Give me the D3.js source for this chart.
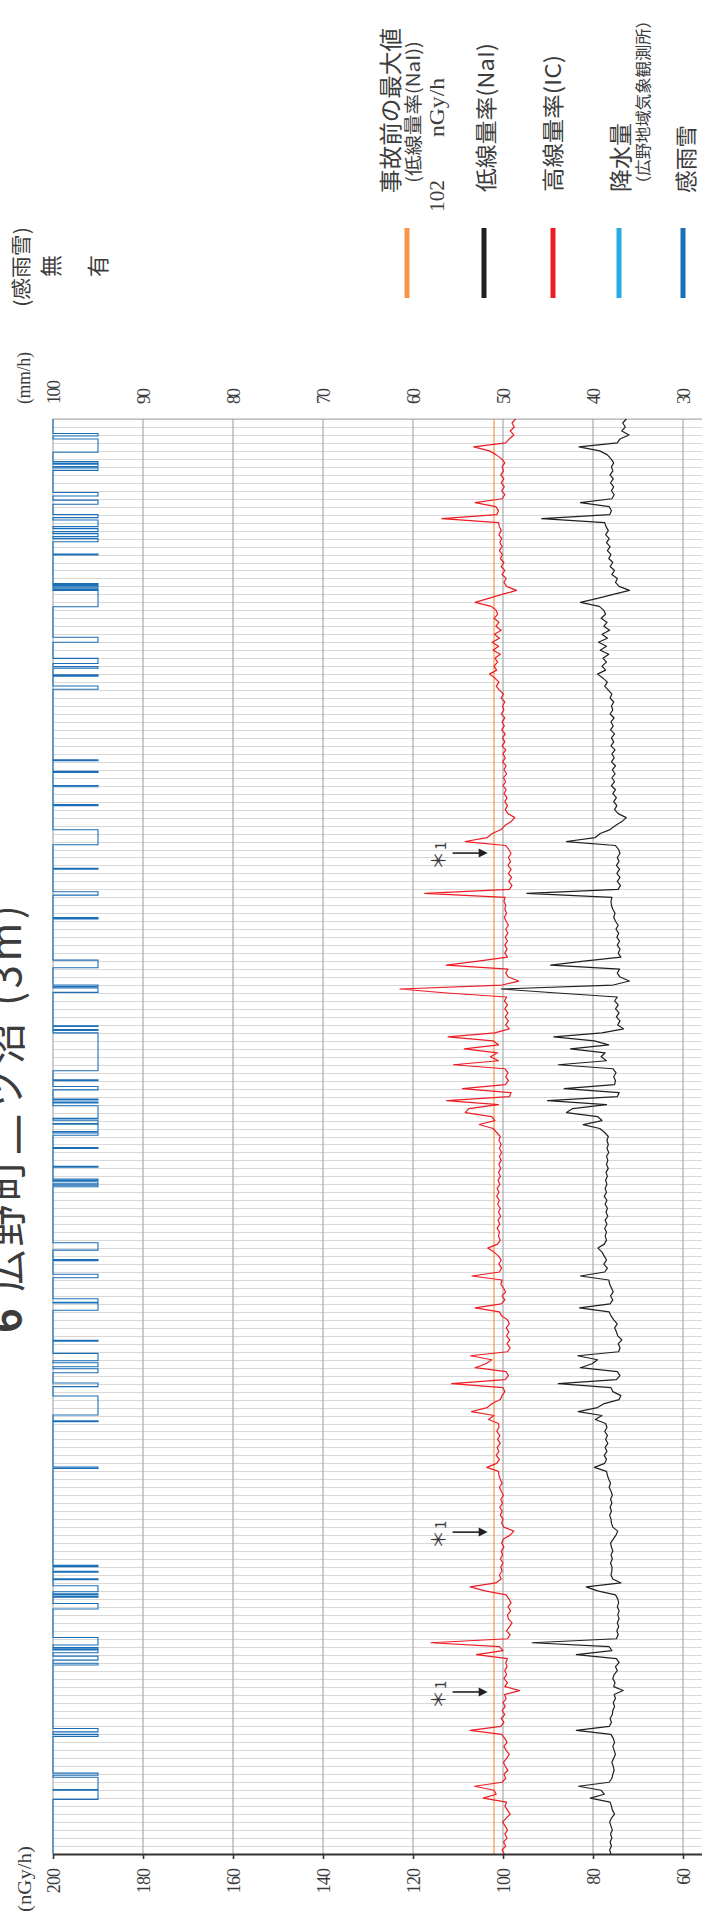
<!DOCTYPE html>
<html lang="ja">
<head>
<meta charset="UTF-8">
<title>6 広野町二ツ沼 (3m)</title>
<script src="https://cdn.jsdelivr.net/npm/d3@7"></script>
<style>
  body { margin: 0; background: #fff; }
  svg { display: block; }
  .num { font-family: "Liberation Serif", "DejaVu Serif", serif; fill: #3c3c3c; }
  .jp { font-family: "Noto Sans CJK JP", sans-serif; fill: #3c3c3c; }
</style>
</head>
<body>
<div id="chart"></div>

<script>
// dose rates every 2 hours, t = 0 h (bottom of the picture) ... 720 h (top)
// one row per day
var redIC = [
  99.7, 100.2, 99.4, 99.9, 99.1, 99.6, 99.0, 99.5, 100.1, 99.3, 98.4, 99.0,
  99.6, 99.2, 104.4, 101.5, 102.0, 106.3, 100.2, 99.4, 99.8, 98.9, 99.5, 99.9,
  99.2, 98.6, 99.3, 99.8, 99.1, 99.6, 100.3, 107.3, 100.5, 99.8, 100.4, 99.6,
  100.2, 99.5, 100.0, 99.3, 99.7, 96.3, 99.6, 99.0, 99.8, 99.2, 99.6, 99.1,
  99.4, 99.0, 105.9, 100.0, 100.8, 116.0, 99.0, 98.4, 99.2, 98.6, 98.0, 98.8,
  99.0, 98.3, 98.9, 98.2, 98.7, 99.3, 104.0, 107.3, 101.6, 100.4, 100.8, 100.2,
  100.5, 100.0, 100.6, 100.1, 100.4, 99.8, 100.3, 99.9, 98.4, 97.6, 99.8, 100.3,
  100.0, 100.6, 100.2, 100.7, 100.1, 100.5, 99.9, 100.4, 100.8, 100.2, 100.6, 100.9,
  101.0, 103.6, 101.4, 100.8, 101.5, 100.9, 101.3, 100.6, 101.2, 100.7, 101.4, 100.9,
  101.0, 103.2, 102.0, 107.0, 103.5, 102.4, 100.6, 100.2, 99.6, 100.0, 111.4, 99.5,
  98.8, 99.3, 106.2, 103.8, 102.5, 107.2, 99.0, 98.4, 99.1, 98.5, 99.2, 98.7,
  99.3, 98.6, 99.0, 100.3, 100.8, 106.2, 100.4, 99.6, 100.2, 99.4, 99.9, 100.5,
  100.2, 106.9, 100.8, 100.3, 100.9, 100.4, 101.0, 102.0, 103.4, 101.2, 100.6, 101.0,
  100.8, 101.3, 100.7, 101.1, 100.5, 101.0, 100.6, 101.2, 100.8, 101.4, 100.9, 101.3,
  100.7, 101.1, 100.6, 101.0, 100.5, 100.9, 100.4, 100.8, 100.3, 100.8, 100.4, 100.9,
  100.6, 101.4, 102.2, 105.3, 101.8, 102.5, 108.4, 107.6, 101.0, 112.5, 98.6, 98.2,
  109.0, 99.5, 98.8, 99.4, 98.9, 99.6, 111.0, 101.0, 102.8, 101.2, 108.6, 101.0,
  102.2, 112.2, 101.8, 98.6, 99.4, 98.8, 99.5, 98.9, 99.6, 99.0, 99.7, 99.2,
  112.5, 122.9, 100.2, 96.5, 98.8, 99.4, 98.9, 112.6, 105.5, 99.0, 99.6, 99.1,
  99.6, 99.0, 99.5, 98.9, 99.4, 98.8, 99.3, 99.7, 99.2, 99.6, 99.4, 99.8,
  99.5, 117.4, 98.6, 98.0, 98.7, 98.1, 98.8, 98.2, 98.9, 98.3, 98.8, 98.2,
  98.7, 99.4, 108.4, 103.5, 102.4, 100.4, 99.6, 98.2, 97.4, 98.9, 99.5, 99.0,
  99.6, 99.1, 99.8, 99.3, 100.0, 99.4, 99.9, 99.2, 99.8, 99.3, 100.1, 99.5,
  100.0, 99.4, 100.2, 99.6, 100.1, 99.5, 100.3, 99.7, 100.2, 99.6, 100.4, 99.8,
  100.1, 99.6, 100.4, 99.9, 100.8, 101.5, 100.9, 101.8, 103.0, 101.4, 102.0, 101.2,
  101.8, 100.6, 102.2, 101.0, 102.4, 100.8, 101.9, 100.4, 101.6, 100.9, 102.0, 101.2,
  101.5, 102.6, 106.2, 103.2, 100.2, 97.0, 99.2, 99.8, 99.3, 100.2, 99.6, 100.4,
  99.8, 100.6, 100.1, 100.8, 100.2, 100.7, 100.3, 100.9, 100.4, 100.8, 101.0, 113.6,
  101.4, 101.0, 101.6, 106.2, 100.2, 99.6, 100.3, 99.7, 100.4, 99.8, 100.5, 99.9,
  100.2, 99.6, 100.3, 101.5, 103.0, 106.5, 99.4, 98.6, 97.6, 98.4, 97.5, 98.0,
  97.2
];

var lowNaI = [
  76.0, 76.3, 75.9, 76.2, 75.8, 76.1, 75.7, 76.0, 76.3, 75.9, 75.2, 75.7,
  75.9, 76.2, 80.6, 77.5, 78.2, 83.2, 76.4, 75.8, 75.6, 75.3, 75.5, 75.8,
  75.4, 75.0, 75.3, 75.6, 75.2, 75.5, 76.0, 83.7, 76.4, 75.9, 76.2, 75.7,
  75.6, 75.2, 75.5, 75.0, 75.3, 73.3, 75.4, 75.1, 75.6, 75.3, 74.6, 75.0,
  74.2, 74.8, 83.7, 75.8, 76.4, 93.5, 74.8, 74.4, 74.7, 74.3, 74.6, 74.2,
  74.5, 74.2, 74.6, 74.3, 74.5, 75.0, 79.0, 81.5, 73.8, 75.6, 76.0, 75.8,
  75.8, 76.1, 75.7, 76.0, 75.6, 75.9, 76.1, 75.5, 74.9, 74.5, 75.6, 75.9,
  76.0, 76.3, 75.9, 76.2, 75.8, 76.1, 75.7, 76.0, 76.4, 76.1, 76.5, 76.8,
  77.0, 79.7, 77.4, 77.0, 77.5, 76.9, 77.3, 76.7, 77.2, 76.8, 77.4, 76.9,
  77.2, 79.5, 78.0, 83.3, 79.0, 77.5, 74.2, 73.8, 75.6, 76.0, 87.7, 74.8,
  74.0, 74.6, 82.8, 80.2, 79.0, 83.4, 74.3, 74.0, 74.4, 73.6, 74.5, 74.8,
  75.2, 74.6, 75.4, 76.0, 76.4, 83.0, 76.2, 75.6, 76.1, 75.5, 75.9, 76.3,
  76.5, 82.8, 77.4, 76.8, 77.6, 77.0, 77.5, 78.0, 78.9, 77.5, 77.0, 77.3,
  77.0, 77.4, 76.9, 77.3, 76.7, 77.1, 76.8, 77.3, 76.9, 77.5, 77.0, 77.3,
  76.9, 77.2, 76.8, 77.1, 76.6, 77.0, 76.7, 77.0, 76.5, 76.9, 76.6, 76.9,
  76.6, 77.4, 78.5, 82.2, 78.0, 79.0, 85.9, 84.5, 77.0, 90.1, 74.6, 74.2,
  86.4, 75.2, 75.0, 75.4, 74.9, 75.6, 87.7, 77.0, 78.2, 77.3, 85.0, 76.5,
  79.7, 88.7, 78.0, 73.2, 74.5, 74.0, 74.8, 74.2, 75.0, 74.4, 75.2, 74.6,
  88.0, 100.4, 75.5, 71.9, 74.0, 74.6, 74.1, 89.4, 82.0, 73.8, 74.4, 74.0,
  74.6, 74.1, 74.7, 74.3, 74.9, 74.4, 75.0, 75.4, 75.1, 75.6, 75.9, 76.0,
  75.8, 94.7, 74.4, 73.9, 74.6, 74.0, 74.7, 74.1, 74.8, 74.2, 74.6, 74.0,
  74.3, 75.0, 85.9, 79.5, 78.4, 76.2, 75.0, 73.6, 72.6, 74.4, 75.2, 74.7,
  75.4, 74.8, 75.6, 75.0, 75.9, 75.2, 75.8, 75.1, 75.7, 75.0, 75.9, 75.3,
  75.8, 75.1, 76.0, 75.4, 75.9, 75.2, 76.1, 75.5, 76.0, 75.3, 76.2, 75.6,
  75.9, 75.4, 76.2, 75.8, 76.6, 77.4, 76.8, 77.8, 79.0, 77.2, 78.0, 77.0,
  77.8, 76.5, 78.4, 77.0, 78.8, 76.8, 78.0, 76.3, 77.6, 76.9, 78.2, 77.2,
  77.6, 78.6, 82.8, 79.0, 75.5, 71.9, 74.2, 75.0, 74.6, 75.8, 75.2, 76.2,
  75.6, 76.5, 76.0, 76.8, 76.2, 77.0, 76.4, 77.2, 76.6, 77.1, 77.4, 91.4,
  76.3, 75.9, 76.4, 82.8, 75.8, 75.3, 75.9, 75.4, 76.1, 75.5, 76.2, 75.6,
  75.9, 75.4, 76.0, 76.8, 78.5, 83.1, 74.6, 74.0, 72.0, 73.6, 72.8, 73.4,
  72.6
];

// rain / snow sensor "on" periods, [from, to] in hours
var rainOn = [
  [27.4, 32.0], [32.4, 38.5], [39.5, 40.6], [59.0, 60.0], [61.3, 63.0],
  [94.8, 95.7], [97.3, 99.3], [101.0, 102.4], [102.9, 103.6], [104.9, 108.6],
  [122.9, 125.7], [128.8, 129.3], [130.1, 130.6], [131.6, 134.6], [137.6, 138.1],
  [141.4, 141.9], [144.2, 144.8], [193.5, 194.2], [216.9, 217.4], [220.3, 229.8],
  [234.5, 236.3], [241.5, 243.5], [244.5, 246.5], [247.5, 251.2], [257.3, 257.8],
  [272.8, 276.5], [276.8, 278.6], [289.1, 290.9], [297.7, 298.2], [303.0, 306.7],
  [334.8, 335.6], [336.3, 337.3], [338.0, 338.7], [344.6, 345.1], [354.0, 354.5],
  [360.6, 361.8], [362.5, 366.2], [366.5, 368.2], [369.1, 375.4], [376.8, 377.3],
  [378.3, 378.8], [383.4, 385.1], [388.0, 388.5], [393.0, 412.0], [413.2, 413.7],
  [415.2, 415.6], [432.3, 434.5], [435.2, 436.0], [444.7, 448.5], [469.2, 469.8],
  [481.1, 482.8], [494.1, 494.6], [506.4, 513.9], [526.0, 526.6], [535.5, 536.1],
  [542.7, 543.2], [548.5, 549.0], [584.4, 586.0], [591.0, 591.6], [595.0, 595.8],
  [597.3, 599.9], [608.0, 610.5], [625.8, 634.0], [634.5, 635.2], [635.8, 636.5],
  [636.9, 637.4], [651.8, 652.3], [658.4, 660.0], [661.0, 662.5], [663.5, 665.0],
  [666.0, 669.3], [670.5, 672.1], [677.2, 679.3], [681.4, 683.1], [694.2, 695.5],
  [696.2, 697.3], [697.8, 698.6], [703.3, 710.0], [711.5, 712.7]
];

var preMax = 102;                       // 事故前の最大値
var noteTimes = [81.3, 161.5, 502.2];   // ＊1 arrows
var nGyTicks = [200, 180, 160, 140, 120, 100, 80, 60];
var mmTicks = [100, 90, 80, 70, 60, 50, 40, 30];
var tMax = 720, step = 2;

var W = 702, H = 1917;
var plotL = 53, plotT = 419, plotB = 1854;

var svg = d3.select("#chart").append("svg")
  .attr("width", W)
  .attr("height", H);

// value axes run left -> right, time runs bottom -> top
var x = d3.scaleLinear().domain([200, 0]).range([plotL, plotL + 900]);
var xmm = d3.scaleLinear().domain([100, 0]).range([plotL, plotL + 900]);
var y = d3.scaleLinear().domain([0, tMax]).range([plotB, plotT]);
var xRain = d3.scaleLinear().domain([0, 1]).range([xmm(100), xmm(95)]);

svg.append("clipPath").attr("id", "plot")
  .append("rect")
  .attr("x", plotL - 1).attr("y", plotT - 1)
  .attr("width", W - plotL + 1).attr("height", plotB - plotT + 2);

// time grid, every 4 h
svg.append("g")
  .selectAll("line")
  .data(d3.range(0, tMax + 1, 4))
  .enter().append("line")
  .attr("x1", plotL).attr("x2", W)
  .attr("y1", function(d) { return Math.round(y(d)) + 0.5; })
  .attr("y2", function(d) { return Math.round(y(d)) + 0.5; })
  .attr("stroke", "#d8d8d8")
  .attr("stroke-width", 1);

// value grid
svg.append("g")
  .selectAll("line")
  .data(nGyTicks)
  .enter().append("line")
  .attr("x1", function(d) { return x(d); })
  .attr("x2", function(d) { return x(d); })
  .attr("y1", plotT).attr("y2", plotB)
  .attr("stroke", "#ababab")
  .attr("stroke-width", 1.2);

// top edge
svg.append("line")
  .attr("x1", plotL).attr("x2", W)
  .attr("y1", plotT).attr("y2", plotT)
  .attr("stroke", "#ababab").attr("stroke-width", 1.2);

var plot = svg.append("g").attr("clip-path", "url(#plot)");

// pre-accident maximum
plot.append("line")
  .attr("x1", x(preMax)).attr("x2", x(preMax))
  .attr("y1", plotT).attr("y2", plotB)
  .attr("stroke", "#f7964a")
  .attr("stroke-width", 1.2);

// rain sensor step line
var rainPts = [[0, 0]];
rainOn.forEach(function(s) {
  rainPts.push([s[0], 0], [s[0], 1], [s[1], 1], [s[1], 0]);
});
rainPts.push([tMax, 0]);

plot.append("path")
  .datum(rainPts)
  .attr("fill", "none")
  .attr("stroke", "#1b6fb8")
  .attr("stroke-width", 1.1)
  .attr("d", d3.line()
    .x(function(d) { return xRain(d[1]); })
    .y(function(d) { return y(d[0]); }));

var line = d3.line()
  .x(function(d) { return x(d); })
  .y(function(d, i) { return y(i * step); });

plot.append("path")
  .datum(lowNaI)
  .attr("fill", "none")
  .attr("stroke", "#231f20")
  .attr("stroke-width", 1.2)
  .attr("stroke-linejoin", "round")
  .attr("d", line);

plot.append("path")
  .datum(redIC)
  .attr("fill", "none")
  .attr("stroke", "#ee1c25")
  .attr("stroke-width", 1.2)
  .attr("stroke-linejoin", "round")
  .attr("d", line);

// ＊1 notes
var notes = svg.append("g").selectAll("g")
  .data(noteTimes)
  .enter().append("g");

notes.append("line")
  .attr("x1", x(111.2)).attr("x2", x(105))
  .attr("y1", function(d) { return y(d); })
  .attr("y2", function(d) { return y(d); })
  .attr("stroke", "#231f20").attr("stroke-width", 1.6);

notes.append("path")
  .attr("d", function(d) {
    var tx = x(103.4), ty = y(d);
    return "M" + tx + "," + ty + "L" + (tx - 9) + "," + (ty - 4.5) + "L" + (tx - 9) + "," + (ty + 4.5) + "Z";
  })
  .attr("fill", "#231f20");

var noteText = notes.append("text")
  .attr("class", "jp")
  .attr("font-size", 19)
  .attr("dy", "0.35em")
  .attr("transform", function(d) { return "translate(" + x(114.2) + "," + (y(d) + 17) + ") rotate(-90)"; });
noteText.append("tspan").text("＊");
noteText.append("tspan").attr("font-size", 15).attr("dx", 1).text("1");

// bottom axis (nGy/h)
var axB = svg.append("g")
  .attr("transform", "translate(0," + plotB + ")")
  .call(d3.axisBottom(x).tickValues(nGyTicks).tickSize(5).tickSizeOuter(0).tickFormat(d3.format("d")));

axB.select(".domain").attr("stroke", "#333").attr("stroke-width", 2.2);
axB.selectAll(".tick line").attr("stroke", "#333").attr("stroke-width", 1.6);
axB.selectAll(".tick text")
  .attr("class", "num")
  .attr("font-size", 18)
  .attr("transform", "rotate(-90)")
  .attr("x", -14).attr("y", 0).attr("dy", "0.35em")
  .attr("textLength", function(d) { return String(d).length * 8.4; })
  .style("text-anchor", "end");

// top axis (mm/h)
var axT = svg.append("g")
  .attr("transform", "translate(0," + plotT + ")")
  .call(d3.axisTop(xmm).tickValues(mmTicks).tickSize(0).tickFormat(d3.format("d")));

axT.select(".domain").remove();
axT.selectAll(".tick text")
  .attr("class", "num")
  .attr("font-size", 18)
  .attr("transform", "rotate(-90)")
  .attr("x", 15).attr("y", 0).attr("dy", "0.35em")
  .attr("textLength", function(d) { return String(d).length * 8.0; })
  .style("text-anchor", "start");

// helper for the rotated labels
function vtext(cls, str, cx, y0, size, len) {
  var t = svg.append("text")
    .attr("class", cls)
    .attr("font-size", size)
    .attr("dy", "0.35em")
    .attr("transform", "translate(" + cx + "," + y0 + ") rotate(-90)")
    .text(str);
  if (len) t.attr("textLength", len).attr("lengthAdjust", "spacingAndGlyphs");
  return t;
}

vtext("num", "(nGy/h)", 25, 1912, 18, 66);
vtext("num", "(mm/h)", 24, 404, 18, 52);

// title, partly cut by the page edge
var title = svg.append("text")
  .attr("class", "jp")
  .attr("font-size", 42)
  .attr("transform", "translate(21,1333) rotate(-90)")
  .attr("textLength", 428)
  .attr("lengthAdjust", "spacing");
title.append("tspan").attr("font-weight", "bold").text("6");
title.append("tspan").text(" 広野町二ツ沼 (3m)");

// rain sensor scale labels
vtext("jp", "(感雨雪)", 22, 307, 20, 80);
vtext("jp", "無", xRain(0) - 2, 277, 22);
vtext("jp", "有", xRain(1), 277, 22);

// legend
var legend = [
  { color: "#f7964a", x: 407 },
  { color: "#231f20", x: 484 },
  { color: "#ee1c25", x: 553 },
  { color: "#29abe2", x: 619 },
  { color: "#1b6fb8", x: 683 }
];

svg.append("g").selectAll("line")
  .data(legend)
  .enter().append("line")
  .attr("x1", function(d) { return d.x; })
  .attr("x2", function(d) { return d.x; })
  .attr("y1", 228).attr("y2", 298)
  .attr("stroke", function(d) { return d.color; })
  .attr("stroke-width", 5);

vtext("jp", "事故前の最大値", 391, 193, 23, 165);
vtext("jp", "(低線量率(NaI))", 414, 183, 18, 142);
vtext("num", "102", 437, 212, 21, 32);
vtext("num", "nGy/h", 437, 137, 21, 59);
vtext("jp", "低線量率(NaI)", 486, 192, 22, 149);
vtext("jp", "高線量率(IC)", 553, 192, 22, 137);
vtext("jp", "降水量", 621, 192, 23, 69);
vtext("jp", "（広野地域気象観測所）", 643, 192, 16, 180);
vtext("jp", "感雨雪", 686, 193, 22, 68);
</script>
</body>
</html>
